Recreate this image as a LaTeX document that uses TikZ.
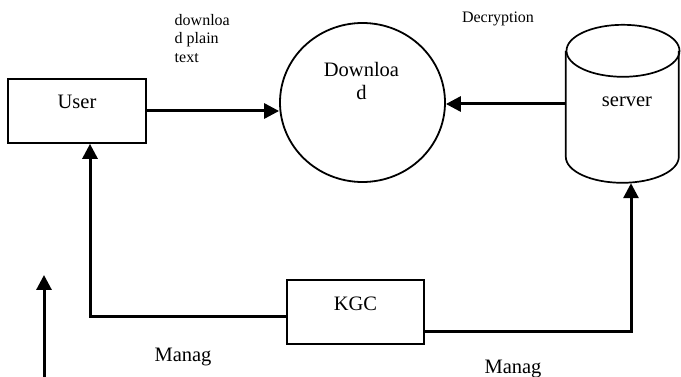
\documentclass[tikz,border=0pt]{standalone}
\usepackage{fontspec}
\setmainfont{Liberation Serif}
\usepackage{tikz}
\usetikzlibrary{shapes.geometric,arrows.meta,positioning,calc}
\newcommand{\boxfont}{\fontsize{20.5}{23}\selectfont}
\newcommand{\notefont}{\fontsize{16}{18.5}\selectfont}

\begin{document}
\begin{tikzpicture}[x=1pt, y=-1pt]
	\tikzstyle{process} = [rectangle, minimum width=138pt, text height=30pt, text depth=34pt, inner sep=0pt, draw=black, line width=1.7pt, font=\boxfont]
	\tikzstyle{bubble} = [ellipse, minimum width=165pt, minimum height=159pt, inner sep=0pt, draw=black, line width=1.8pt]
	\tikzstyle{store} = [rectangle, minimum width=114pt, text height=82pt, text depth=76pt, inner sep=0pt, font=\boxfont]
	\tikzstyle{flow} = [line width=3pt, -{Triangle[length=15pt, width=15pt]}]
	\tikzstyle{note} = [inner sep=0pt, font=\notefont]
	\useasboundingbox (0,0) rectangle (681,377);

	\node (user) [process] at (77,111) {User};
	\node (kgc) [process, minimum width=137pt] at (355.5,312) {KGC};
	\node (download) [bubble] at (362.5,102.5) {};
	\node (dltext) [anchor=north, align=center, inner sep=0pt, font=\boxfont] at (361.5,62) {Downloa\\d};
	\node (server) [store] at (623,104) {\hspace{8pt}server};
	% cylinder outline around the server node
	\draw [line width=1.7pt] (server.north) ++(0,26) ellipse [x radius=56.5, y radius=26];
	\draw [line width=1.7pt] (server.north west) ++(0,26) -- ++(0,106)
		arc [start angle=180, end angle=0, x radius=56.5, y radius=26] -- ++(0,-106);

	\node (plain) [note, anchor=north west, align=left] at (174.5,14) {downloa\\d plain\\text};
	\node (decrypt) [note, anchor=base] at (498,23) {Decryption};
	\node (manag1) [anchor=base, inner sep=0pt, font=\boxfont] at (183,361) {Manag};
	\node (manag2) [anchor=base, inner sep=0pt, font=\boxfont] at (513,373.5) {Manag};

	\draw [flow] (user.east) -- (user.east -| download.west);
	\draw [flow] (server.west) -- (server.west -| download.east);
	\draw [flow] ([yshift=-4pt]kgc.west) -| ([xshift=13pt]user.south);
	\draw [flow] ([yshift=-19pt]kgc.east) -| ([xshift=8pt]server.south);
	\coordinate (tail) at (44,377);
	\coordinate (head) at (44,275);
	\draw [flow] (tail) -- (head);
\end{tikzpicture}
\end{document}
